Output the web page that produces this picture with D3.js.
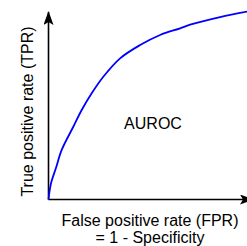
<!DOCTYPE html>
<html>
<head>
<meta charset="utf-8">
<script src="https://cdn.jsdelivr.net/npm/d3@7"></script>
<style>
  body { margin: 0; background: #fff; }
  text { font-family: "Liberation Sans", Arial, Helvetica, sans-serif; fill: #000; }
</style>
</head>
<body>
<div class="chart"></div>
<script>
// ROC curve
var fpr = [0, 0.0125, 0.038, 0.066, 0.124, 0.166, 0.216, 0.274, 0.358, 0.458, 0.558, 0.658, 0.708, 0.858, 1.0];
var tpr = [0, 0.085, 0.168, 0.261, 0.383, 0.471, 0.559, 0.646, 0.743, 0.813, 0.866, 0.901, 0.92, 0.96, 0.99];

var xLabel = ["False positive rate (FPR)", "= 1 - Specificity"];
var yLabel = "True positive rate (TPR)";
var areaLabel = "AUROC";

var svgWidth = 247;
var svgHeight = 246;

var svg = d3.select(".chart")
  .append("svg")
  .attr("width", svgWidth)
  .attr("height", svgHeight);

var x = d3.scaleLinear().domain([0, 1]).range([48.5, 248.5]);
var y = d3.scaleLinear().domain([0, 1]).range([199.5, 9.5]);

// arrow heads
var defs = svg.append("defs");
defs.append("marker")
  .attr("id", "arrow")
  .attr("viewBox", "0 0 14 10")
  .attr("refX", 13)
  .attr("refY", 5)
  .attr("markerWidth", 14)
  .attr("markerHeight", 10)
  .attr("markerUnits", "userSpaceOnUse")
  .attr("orient", "auto")
  .append("path")
  .attr("d", "M0,0 L14,5 L0,10 L3,5 Z")
  .attr("fill", "#000");

// axes
svg.append("line")
  .attr("x1", x(0)).attr("y1", y(0))
  .attr("x2", x(0)).attr("y2", 12)
  .attr("stroke", "#000")
  .attr("stroke-width", 1.6)
  .attr("marker-end", "url(#arrow)");

svg.append("line")
  .attr("x1", x(0)).attr("y1", y(0))
  .attr("x2", 253).attr("y2", y(0))
  .attr("stroke", "#000")
  .attr("stroke-width", 1.6)
  .attr("marker-end", "url(#arrow)");

// curve
var line = d3.line()
  .x((d, i) => x(fpr[i]))
  .y((d, i) => y(tpr[i]))
  .curve(d3.curveCatmullRom);

svg.append("path")
  .datum(fpr)
  .attr("d", line)
  .attr("fill", "none")
  .attr("stroke", "#0000ff")
  .attr("stroke-width", 1.8);

// labels
svg.append("text")
  .attr("x", 153)
  .attr("y", 128.5)
  .attr("text-anchor", "middle")
  .attr("font-size", 16)
  .text(areaLabel);

svg.append("text")
  .attr("transform", "translate(32.5, 111.5) rotate(-90)")
  .attr("text-anchor", "middle")
  .attr("font-size", 16)
  .text(yLabel);

svg.selectAll(".xlab")
  .data(xLabel)
  .enter()
  .append("text")
  .attr("class", "xlab")
  .attr("x", 150)
  .attr("y", (d, i) => 226 + i * 17)
  .attr("text-anchor", "middle")
  .attr("font-size", 16)
  .text(d => d);
</script>
</body>
</html>
